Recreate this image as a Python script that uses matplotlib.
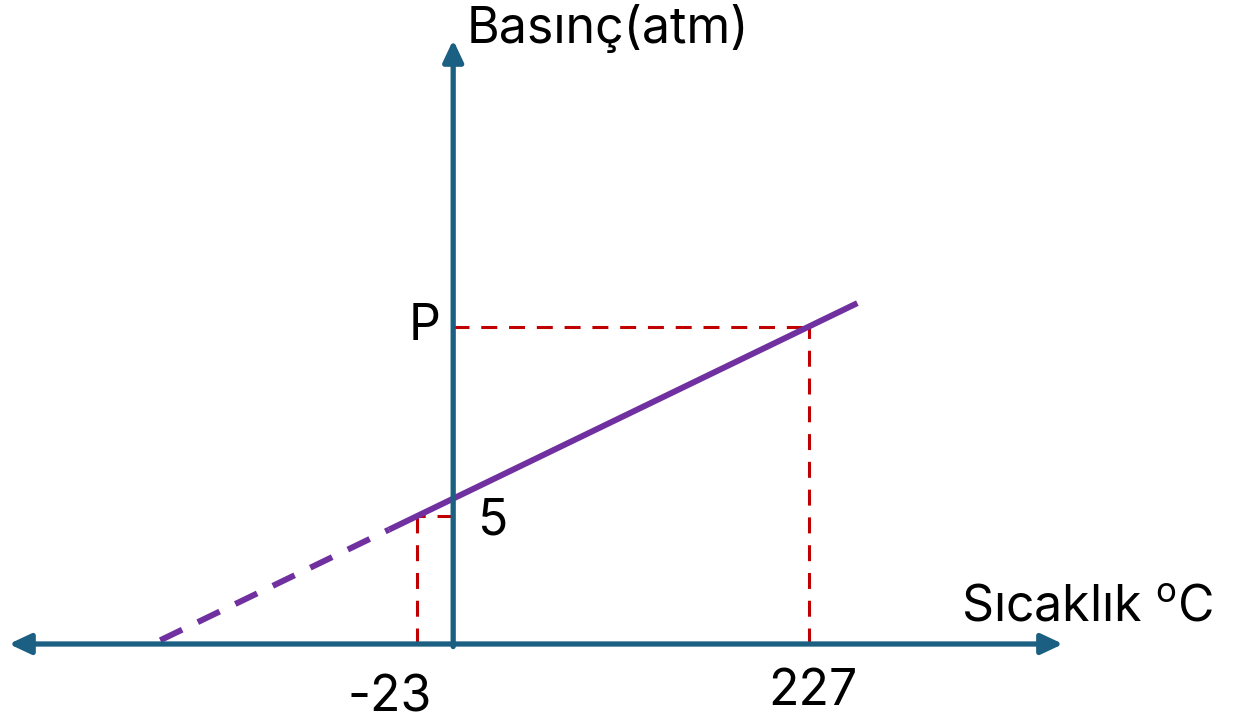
import matplotlib
matplotlib.use("Agg")
import matplotlib.pyplot as plt
from matplotlib.patches import FancyArrowPatch

# Gas pressure vs temperature (constant volume), schematic
temps = [-23, 227]            # °C, marked on the temperature axis
pressures = [5, 12.4]         # atm; the second level is labelled "P"
temp_labels = ["-23", "227"]
pressure_labels = ["5", "P"]

line_start_t = -187           # extrapolated part starts just above P = 0
solid_start_t = -41           # measured region begins here
line_end_t = 258

x_axis_range = (-283.6, 389.3)
y_axis_top = 23.6

AXIS = "#1B5F82"
LINE = "#7030A0"
GUIDE = "#C00000"
FONT = "Inter"

plt.rcParams["font.family"] = [FONT, "DejaVu Sans"]
plt.rcParams["mathtext.fontset"] = "custom"
plt.rcParams["mathtext.rm"] = FONT
plt.rcParams["lines.scale_dashes"] = False

fig = plt.figure(figsize=(12.38, 7.19), dpi=100)
ax = fig.add_axes([0, 0, 1, 1])
ax.set_xlim(-289.3, 501.0)
ax.set_ylim(-2.93, 25.16)
ax.axis("off")

# straight line through the two measured states
slope = (pressures[1] - pressures[0]) / (temps[1] - temps[0])


def p_at(t):
    return pressures[0] + slope * (t - temps[0])


ax.plot([line_start_t, solid_start_t], [p_at(line_start_t), p_at(solid_start_t)],
        color=LINE, lw=4.3, linestyle=(0, (17.5, 12.5)), solid_capstyle="butt",
        dash_capstyle="butt", zorder=3)
ax.plot([solid_start_t, line_end_t], [p_at(solid_start_t), p_at(line_end_t)],
        color=LINE, lw=4.3, solid_capstyle="butt", zorder=3)

# dashed guides to both axes
for t, p in zip(temps, pressures):
    ax.plot([t, t], [0, p], color=GUIDE, lw=2.2, linestyle=(0, (11.5, 8.5)),
            dash_capstyle="butt", zorder=2)
    ax.plot([0, t], [p, p], color=GUIDE, lw=2.2, linestyle=(0, (11.5, 8.5)),
            dash_capstyle="butt", zorder=2)

# axes with arrowheads
ax.add_patch(FancyArrowPatch((x_axis_range[0], 0), (x_axis_range[1], 0),
                             arrowstyle="<|-|>,head_length=1.0,head_width=0.47",
                             mutation_scale=13, color=AXIS, lw=3.8,
                             shrinkA=0, shrinkB=0, zorder=4))
ax.add_patch(FancyArrowPatch((0, -0.1), (0, y_axis_top),
                             arrowstyle="-|>,head_length=1.0,head_width=0.47",
                             mutation_scale=13, color=AXIS, lw=3.8,
                             shrinkA=0, shrinkB=0, zorder=4))

fs = 36
ax.text(8.8, 23.48, "Basınç(atm)", fontsize=fs, ha="left", va="baseline")
ax.text(324.2, 0.86, "Sıcaklık $^{\\mathrm{o}}$C", fontsize=fs, ha="left", va="baseline")
ax.text(-8.4, pressures[1] - 0.53, pressure_labels[1], fontsize=fs, ha="right", va="baseline")
ax.text(15.8, pressures[0] - 0.74, pressure_labels[0], fontsize=fs, ha="left", va="baseline")
ax.text(temps[0] - 17.4, -2.62, temp_labels[0], fontsize=fs, ha="center", va="baseline")
ax.text(temps[1] + 2.3, -2.38, temp_labels[1], fontsize=fs, ha="center", va="baseline")

fig.savefig("out.png", dpi=100, facecolor="white")
